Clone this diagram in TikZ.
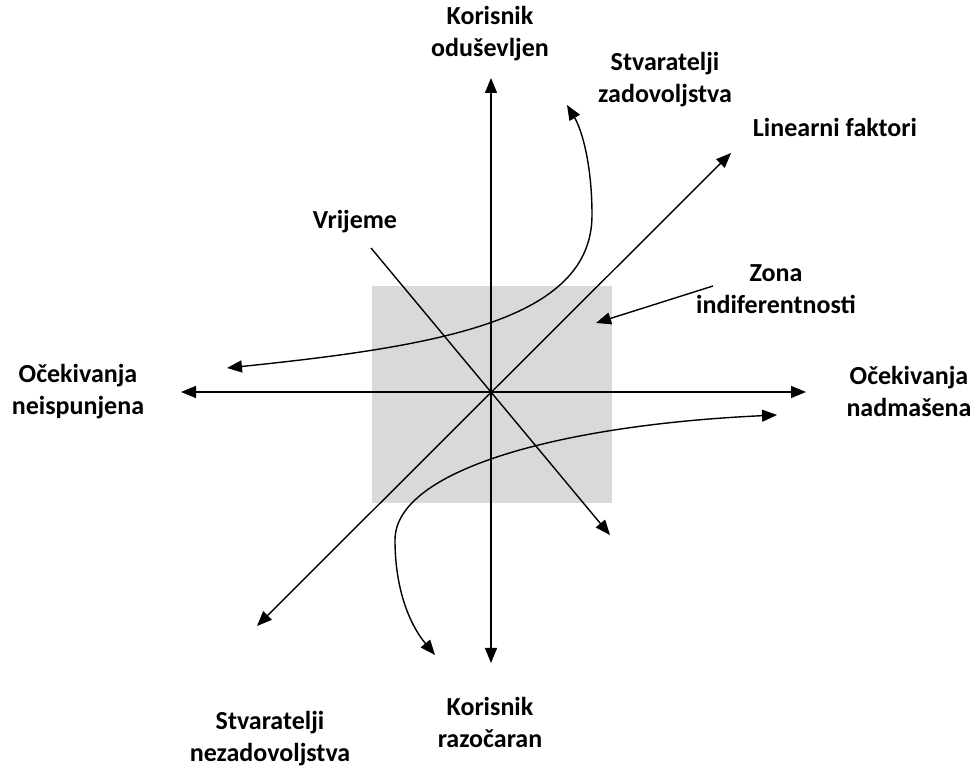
\documentclass[tikz,border=0pt]{standalone}
\usepackage{fontspec}
\setmainfont{Carlito}
\usetikzlibrary{arrows.meta}
\definecolor{zonegray}{RGB}{217,217,217}
\tikzset{
  lbl/.style={font=\fontsize{26bp}{32bp}\selectfont\bfseries, align=center, inner sep=0pt},
}
\begin{document}
\begin{tikzpicture}[>={Triangle[length=15bp,width=12bp]},line join=bevel,line width=1.4bp]
\useasboundingbox (0bp,0bp) rectangle (975bp,775bp);
%% zone
  % Node: zone
  \fill [zonegray] (372bp,272bp) rectangle (612bp,489bp);
  \coordinate (zone) at (596bp,452bp);
%% axis ends
  \coordinate (O) at (491bp,383bp);
  \coordinate (yt) at (491bp,697bp);
  \coordinate (yb) at (491bp,112bp);
  \coordinate (xl) at (181bp,383bp);
  \coordinate (xr) at (806bp,383bp);
  \coordinate (la) at (257bp,149bp);
  \coordinate (lb) at (731bp,622bp);
  \coordinate (va) at (371bp,527bp);
  \coordinate (vb) at (610bp,240bp);
  \coordinate (sza) at (227bp,407bp);
  \coordinate (szb) at (567bp,670bp);
  \coordinate (sna) at (777bp,360bp);
  \coordinate (snb) at (435bp,120bp);
%% labels
  % Node: delighted
  \node [lbl] (delighted) at (490bp,741bp) {Korisnik\\oduševljen};
  % Node: satisfiers
  \node [lbl] (satisfiers) at (665bp,695bp) {Stvaratelji\\zadovoljstva};
  % Node: linear
  \node [lbl] (linear) at (835bp,648bp) {Linearni faktori};
  % Node: time
  \node [lbl] (time) at (355bp,553bp) {Vrijeme};
  % Node: indiff
  \node [lbl] (indiff) at (776bp,486bp) {Zona\\indiferentnosti};
  % Node: unmet
  \node [lbl] (unmet) at (78bp,383bp) {Očekivanja\\neispunjena};
  % Node: exceeded
  \node [lbl] (exceeded) at (909bp,384bp) {Očekivanja\\nadmašena};
  % Node: dissatisfiers
  \node [lbl] (dissatisfiers) at (270bp,36bp) {Stvaratelji\\nezadovoljstva};
  % Node: disappointed
  \node [lbl] (disappointed) at (490bp,53bp) {Korisnik\\razočaran};
%% edges
  % Edge: yb <-> yt
  \draw [<->] (yb) -- (yt);
  % Edge: xl <-> xr
  \draw [<->] (xl) -- (xr);
  % Edge: la <-> lb
  \draw [<->] (la) -- (lb);
  % Edge: va -> vb
  \draw [->] (va) -- (vb);
  % Edge: indiff -> zone
  \draw [->] (713bp,489bp) -- (zone);
  % Edge: sza <-> szb
  \draw [<->] (sza) .. controls (440bp,429bp) and (592bp,455bp) .. (592bp,560bp)
    .. controls (592bp,610bp) and (582bp,645bp) .. (szb);
  % Edge: sna <-> snb
  \draw [<->] (sna) .. controls (560bp,350bp) and (395bp,305bp) .. (395bp,235bp)
    .. controls (395bp,185bp) and (410bp,150bp) .. (snb);
%
\end{tikzpicture}
\end{document}
